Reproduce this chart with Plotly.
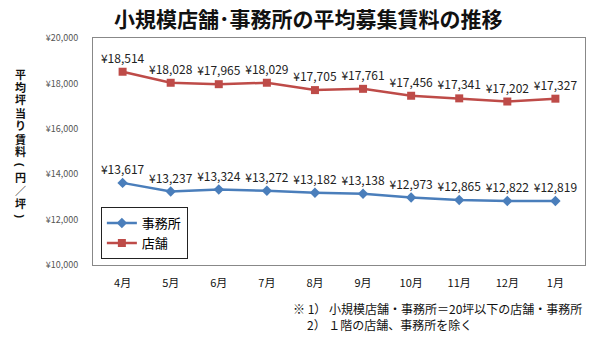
import plotly.graph_objects as go

months = ["4月", "5月", "6月", "7月", "8月", "9月", "10月", "11月", "12月", "1月"]
office = [13617, 13237, 13324, 13272, 13182, 13138, 12973, 12865, 12822, 12819]
store = [18514, 18028, 17965, 18029, 17705, 17761, 17456, 17341, 17202, 17327]
y_ticks = [10000, 12000, 14000, 16000, 18000, 20000]

FONT = "Noto Sans CJK JP"
BLUE = "#4A7EBB"
RED = "#BE4B48"

# plot-area geometry in pixels, used to place free text
L, R, T, B = 93, 585, 38, 265
PW, PH = R - L, B - T


def yen(v):
    return f"¥{v:,}"


def px(x):
    return (x - L) / PW


def py(y):
    return (B - y) / PH


fig = go.Figure()
fig.add_trace(go.Scatter(
    x=months, y=office, name="事務所", mode="lines+markers+text",
    line=dict(color=BLUE, width=2.5),
    marker=dict(symbol="diamond", size=8, color=BLUE),
    text=[yen(v) for v in office], textposition="top center",
    textfont=dict(family=FONT, size=12, color="#222"),
))
fig.add_trace(go.Scatter(
    x=months, y=store, name="店舗", mode="lines+markers+text",
    line=dict(color=RED, width=2.5),
    marker=dict(symbol="square", size=8, color=RED),
    text=[yen(v) for v in store], textposition="top center",
    textfont=dict(family=FONT, size=12, color="#222"),
))

fig.update_layout(
    width=600, height=340,
    margin=dict(l=L, r=600 - R, t=T, b=340 - B),
    paper_bgcolor="white", plot_bgcolor="white",
    font=dict(family=FONT, color="#000"),
    showlegend=True,
    legend=dict(x=0.016, y=0.255, xanchor="left", yanchor="top",
                bordercolor="#222", borderwidth=1, bgcolor="white",
                font=dict(family=FONT, size=13), itemwidth=30,
                tracegroupgap=0),
    xaxis=dict(showgrid=False, showline=True, mirror=True,
               linecolor="#888", linewidth=1, ticks="",
               tickfont=dict(family=FONT, size=11, color="#111"),
               ticklabelstandoff=8),
    yaxis=dict(range=[10000, 20000], tickvals=y_ticks,
               ticktext=[yen(v) for v in y_ticks],
               showgrid=False, zeroline=False, showline=True, mirror=True,
               linecolor="#888", linewidth=1, ticks="",
               tickfont=dict(family=FONT, size=9, color="#555"),
               ticklabelstandoff=12),
)

# chart title
fig.add_annotation(
    text="<b>小規模店舗･事務所の平均募集賃料の推移</b>",
    xref="paper", yref="paper", x=px(308), y=py(18),
    xanchor="center", yanchor="middle", showarrow=False,
    font=dict(family=FONT, size=21, color="#111"),
)

# vertical axis title, one character per slot; a compact-metric primary
# family keeps each slot tight while the CJK glyphs come from Noto.
# Brackets are turned a quarter turn so they read vertically.
axis_title = "平均坪当り賃料(円／坪)"
for i, ch in enumerate(axis_title):
    fig.add_annotation(
        text=f"<b>{ch}</b>",
        xref="paper", yref="paper", x=px(20), y=py(74.5 + i * 12.9),
        xanchor="center", yanchor="middle", showarrow=False,
        textangle=90 if ch in "()" else 0,
        font=dict(family="Liberation Sans, " + FONT, size=11, color="#111"),
    )

# footnotes
fig.add_annotation(
    text="※ 1） 小規模店舗・事務所＝20坪以下の店舗・事務所",
    xref="paper", yref="paper", x=px(291), y=py(308),
    xanchor="left", yanchor="middle", showarrow=False,
    font=dict(family=FONT, size=12, color="#111"),
)
fig.add_annotation(
    text="2） １階の店舗、事務所を除く",
    xref="paper", yref="paper", x=px(305), y=py(324),
    xanchor="left", yanchor="middle", showarrow=False,
    font=dict(family=FONT, size=12, color="#111"),
)

fig.write_html("out.html")
